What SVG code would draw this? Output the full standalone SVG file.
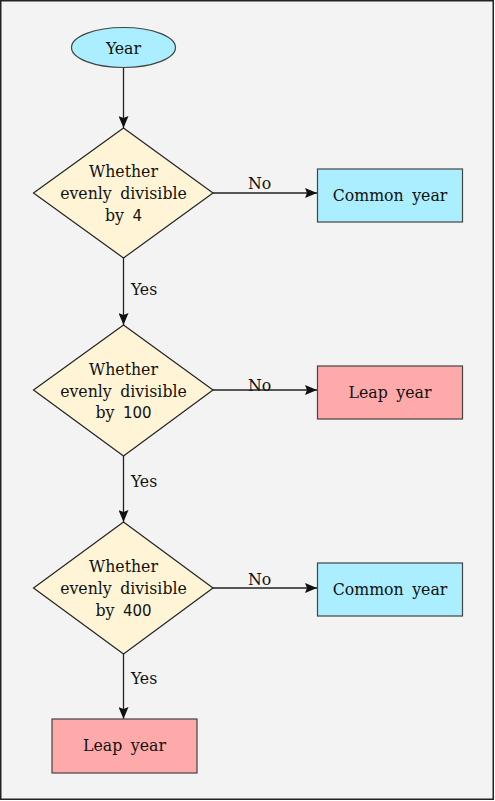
<svg xmlns="http://www.w3.org/2000/svg" width="495" height="801" viewBox="0 0 495 801">
<defs>
<style>
text{font-family:"DejaVu Serif Condensed","DejaVu Serif",serif;font-stretch:condensed;font-size:17.5px;fill:#111;word-spacing:3.5px;}
.c{text-anchor:middle;}
.d{font-family:"DejaVu Sans",sans-serif;font-stretch:normal;font-size:15px;}
.ln{stroke:#222;stroke-width:1.3;fill:none;}
.dia{fill:#fff5d6;stroke:#222;stroke-width:1.2;}
.blue{fill:#aaeeff;stroke:#444;stroke-width:1.2;}
.pink{fill:#ffaaaa;stroke:#444;stroke-width:1.2;}
</style>
<marker id="ah" viewBox="0 0 12 10" refX="12" refY="5" markerWidth="12" markerHeight="10" markerUnits="userSpaceOnUse" orient="auto">
<path d="M0,0 L12,5 L0,10 L2,5 z" fill="#111"/>
</marker>
</defs>
<rect x="0.75" y="0.75" width="492.5" height="798.5" fill="#f3f3f3" stroke="#222" stroke-width="1.5"/>
<g id="connectors">
<line class="ln" x1="123.5" y1="68" x2="123.5" y2="128" marker-end="url(#ah)"/>
<line class="ln" x1="213" y1="193" x2="317" y2="193" marker-end="url(#ah)"/>
<line class="ln" x1="123.5" y1="258" x2="123.5" y2="325" marker-end="url(#ah)"/>
<line class="ln" x1="213" y1="390" x2="317" y2="390" marker-end="url(#ah)"/>
<line class="ln" x1="123.5" y1="456" x2="123.5" y2="522" marker-end="url(#ah)"/>
<line class="ln" x1="213" y1="588" x2="317" y2="588" marker-end="url(#ah)"/>
<line class="ln" x1="123.5" y1="654" x2="123.5" y2="719" marker-end="url(#ah)"/>
<text x="248" y="189">No</text>
<text x="248" y="391">No</text>
<text x="248" y="585">No</text>
<text x="131" y="295">Yes</text>
<text x="131" y="487">Yes</text>
<text x="131" y="684">Yes</text>
</g>
<g id="start">
<ellipse cx="123.5" cy="47.5" rx="52" ry="20" class="blue"/>
<text class="c" x="123.5" y="53.5">Year</text>
</g>
<g id="check4">
<polygon class="dia" points="123.5,128 213,193 123.5,258 33.5,193"/>
<text class="c" x="123.5" y="177">Whether</text>
<text class="c" x="123.5" y="199">evenly divisible</text>
<text class="c" x="123.5" y="221">by <tspan class="d">4</tspan></text>
</g>
<g id="common1">
<rect class="blue" x="317.5" y="169" width="145" height="53"/>
<text class="c" x="390" y="201">Common year</text>
</g>
<g id="check100">
<polygon class="dia" points="123.5,325 213,390 123.5,456 33.5,390"/>
<text class="c" x="123.5" y="375">Whether</text>
<text class="c" x="123.5" y="397">evenly divisible</text>
<text class="c" x="123.5" y="418">by <tspan class="d">100</tspan></text>
</g>
<g id="leap1">
<rect class="pink" x="317.5" y="366" width="145" height="53"/>
<text class="c" x="390" y="398">Leap year</text>
</g>
<g id="check400">
<polygon class="dia" points="123.5,522 213,588 123.5,654 33.5,588"/>
<text class="c" x="123.5" y="572">Whether</text>
<text class="c" x="123.5" y="594">evenly divisible</text>
<text class="c" x="123.5" y="616">by <tspan class="d">400</tspan></text>
</g>
<g id="common2">
<rect class="blue" x="317.5" y="563" width="145" height="53"/>
<text class="c" x="390" y="595">Common year</text>
</g>
<g id="leap2">
<rect class="pink" x="52" y="719" width="145" height="54"/>
<text class="c" x="124.5" y="751">Leap year</text>
</g>
</svg>
